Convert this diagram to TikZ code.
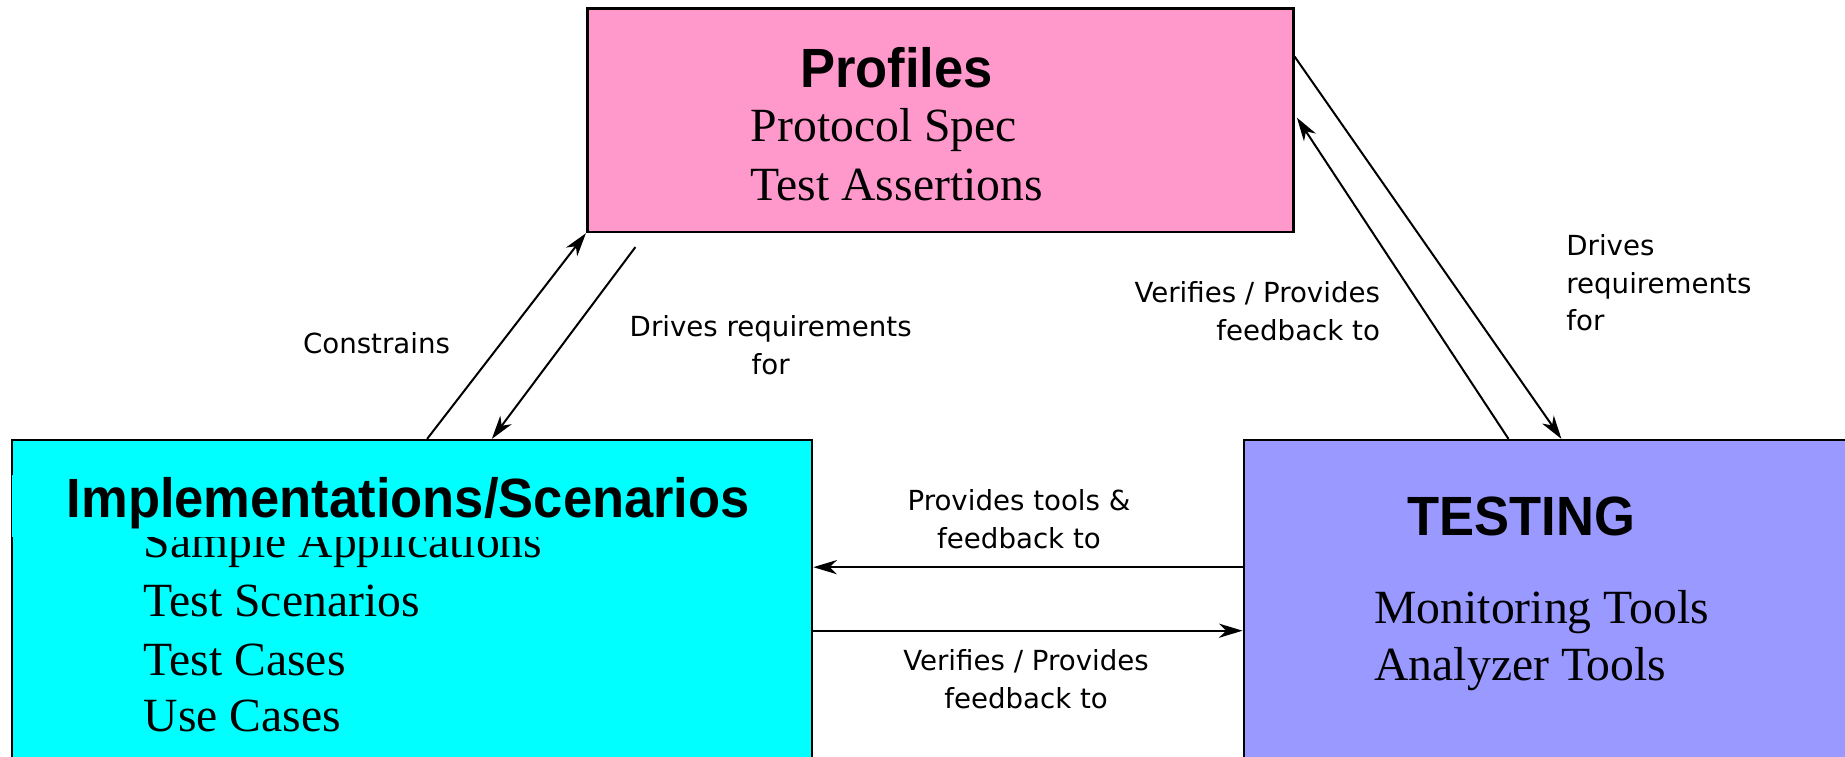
\documentclass[tikz,border=0pt]{standalone}
\usepackage{fontspec}
\setmainfont{Liberation Serif}
\newfontfamily\titlefont[FakeStretch=0.95]{Liberation Sans}
\newfontfamily\labelfont{DejaVu Sans}
\usetikzlibrary{arrows.meta,calc}
\definecolor{profpink}{RGB}{255,153,204}
\definecolor{implcyan}{RGB}{0,255,255}
\definecolor{testblue}{RGB}{153,153,255}
\begin{document}
\begin{tikzpicture}[x=1pt,y=-1pt,
  box/.style={draw=black, line width=2.2pt, inner sep=0pt, anchor=north west},
  titletext/.style={font=\titlefont\bfseries\fontsize{47}{50}\selectfont, inner sep=0pt, anchor=base},
  item/.style={font=\fontsize{40.5}{46}\selectfont, inner sep=0pt, anchor=base west},
  lbl/.style={font=\labelfont\fontsize{23.5}{32}\selectfont, inner sep=0pt},
  conn/.style={line width=1.7pt, -{Stealth[length=20pt,width=12pt,inset=6pt]}}]
\useasboundingbox (0,0) rectangle (1568,643);
\begin{scope}
\clip (0,0) rectangle (1568,643);
% boxes
\node[box, fill=profpink, minimum width=600pt, minimum height=190pt] (prof) at (498,6) {};
\node[box, fill=implcyan, minimum width=680pt, minimum height=300pt] (impl) at (9,373) {};
\node[box, fill=testblue, minimum width=560pt, minimum height=300pt] (test) at (1056,373) {};
% Profiles content
\node[titletext] (proft) at (762,74) {Profiles};
\node[item] (p1) at (638,120) {Protocol Spec};
\node[item] (p2) at (638,170) {Test Assertions};
% Implementations content
\node[item] (i1) at (122,474) {Sample Applications};
\node[titletext, fill=implcyan, minimum width=674pt, text height=36pt, text depth=16pt] (implt) at (347,440) {Implementations/Scenarios};
\node[item] (i2) at (122,524) {Test Scenarios};
\node[item] (i3) at (122,574) {Test Cases};
\node[item] (i4) at (122,622) {Use Cases};
% Testing content
\node[titletext] (testt) at (1293,455) {TESTING};
\node[item] (t1) at (1168,530) {Monitoring Tools};
\node[item] (t2) at (1168,578) {Analyzer Tools};
\end{scope}
% connector end points
\coordinate (c1s) at ($(impl.north west)+(354,0)$);
\coordinate (c2s) at (540,210);
\coordinate (c2e) at ($(impl.north west)+(409,0)$);
\coordinate (c3s) at ($(prof.north east)+(0,42)$);
\coordinate (c3e) at ($(test.north west)+(271,0)$);
\coordinate (c4s) at ($(test.north west)+(226,0)$);
\coordinate (c4e) at ($(prof.north east)+(2,94)$);
\coordinate (c5s) at ($(test.north west)+(0,109)$);
\coordinate (c5e) at ($(impl.north east)+(0,109)$);
\coordinate (c6s) at ($(impl.north east)+(0,163)$);
\coordinate (c6e) at ($(test.north west)+(0,163)$);
% connectors
\draw[conn] (c1s) -- (prof.south west);
\draw[conn] (c2s) -- (c2e);
\draw[conn] (c3s) -- (c3e);
\draw[conn] (c4s) -- (c4e);
\draw[conn] (c5s) -- (c5e);
\draw[conn] (c6s) -- (c6e);
% labels
\node[lbl, anchor=base] (l1) at (320,300) {Constrains};
\node[lbl, align=center, anchor=north] (l2) at (655,268) {Drives requirements\\for};
\node[lbl, align=right, anchor=north east] (l4) at (1173,239) {Verifies / Provides\\feedback to};
\node[lbl, align=left, anchor=north west] (l3) at (1331,199) {Drives\\requirements\\for};
\node[lbl, align=center, anchor=north] (l5) at (866,416) {Provides tools \&\\feedback to};
\node[lbl, align=center, anchor=north] (l6) at (872,552) {Verifies / Provides\\feedback to};
\end{tikzpicture}
\end{document}
